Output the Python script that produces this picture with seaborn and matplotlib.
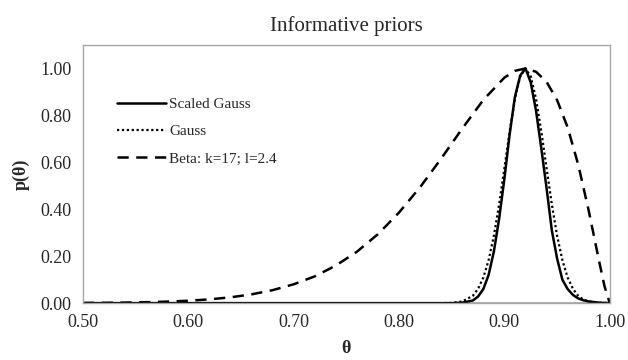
import numpy as np
import pandas as pd
import matplotlib
matplotlib.use("Agg")
import matplotlib.pyplot as plt
import seaborn as sns

# values
theta_g = [0.50, 0.84, 0.85, 0.86, 0.87, 0.875, 0.88, 0.885, 0.89, 0.895, 0.90,
           0.905, 0.91, 0.915, 0.92, 0.925, 0.93, 0.935, 0.94, 0.945, 0.95,
           0.955, 0.96, 0.965, 0.97, 0.975, 0.98, 0.99, 1.00]
scaled_gauss = [0.0, 0.0, 0.0, 0.002, 0.011, 0.028, 0.06, 0.12, 0.22, 0.36, 0.53,
                0.72, 0.88, 0.97, 1.00, 0.94, 0.82, 0.66, 0.49, 0.31, 0.19,
                0.10, 0.06, 0.035, 0.02, 0.012, 0.007, 0.002, 0.0]
gauss = [0.0, 0.0, 0.001, 0.007, 0.031, 0.061, 0.109, 0.183, 0.287, 0.421, 0.575,
         0.732, 0.871, 0.966, 1.00, 0.966, 0.871, 0.732, 0.575, 0.421, 0.287,
         0.183, 0.109, 0.061, 0.031, 0.015, 0.007, 0.001, 0.0]

theta_b = [0.50, 0.52, 0.54, 0.56, 0.58, 0.60, 0.62, 0.64, 0.66, 0.68, 0.70,
           0.72, 0.74, 0.76, 0.78, 0.80, 0.82, 0.84, 0.86, 0.88, 0.90, 0.91,
           0.92, 0.93, 0.94, 0.95, 0.96, 0.97, 0.98, 0.99, 0.995, 1.00]
beta = [0.0008, 0.0013, 0.0023, 0.0039, 0.0064, 0.0102, 0.016, 0.0247, 0.0373,
        0.0552, 0.0803, 0.114, 0.160, 0.219, 0.294, 0.386, 0.494, 0.616, 0.744,
        0.866, 0.961, 0.990, 1.00, 0.986, 0.943, 0.865, 0.749, 0.591, 0.394,
        0.176, 0.072, 0.0]

x_ticks = [0.50, 0.60, 0.70, 0.80, 0.90, 1.00]
y_ticks = [0.00, 0.20, 0.40, 0.60, 0.80, 1.00]

sns.set_style("white")
plt.rcParams['font.family'] = ['Liberation Serif', 'DejaVu Serif']

fig = plt.figure(figsize=(6.28, 3.6), dpi=100)
ax = fig.add_axes([0.132, 0.158, 0.839, 0.717])

# grey baseline like the excel chart
ax.axhline(0, color='#a6a6a6', lw=1.2, zorder=1)

sns.lineplot(x=theta_g, y=scaled_gauss, ax=ax, color='black', lw=1.8,
             label='Scaled Gauss')
sns.lineplot(x=theta_g, y=gauss, ax=ax, color='black', lw=1.6,
             linestyle=(0, (1, 1.2)), label='Gauss')
sns.lineplot(x=theta_b, y=beta, ax=ax, color='black', lw=1.8,
             linestyle=(0, (4.5, 3)), label='Beta: k=17; l=2.4')

ax.set_xlim(0.5, 1.0)
ax.set_ylim(0, 1.1)
ax.set_xticks(x_ticks)
ax.set_xticklabels(['%.2f' % v for v in x_ticks])
ax.set_yticks(y_ticks)
ax.set_yticklabels(['%.2f' % v for v in y_ticks])
ax.tick_params(axis='both', length=0, labelsize=13, pad=8)

for s in ax.spines.values():
    s.set_color('#a6a6a6')
    s.set_linewidth(1.0)

ax.set_title('Informative priors', fontsize=15, pad=10)
ax.set_xlabel('θ', fontsize=13, fontweight='bold', labelpad=6)
ax.set_ylabel('p(θ)', fontsize=13, fontweight='bold', labelpad=8)

ax.legend(loc='upper left', bbox_to_anchor=(0.038, 0.851), frameon=False,
          fontsize=11, handlelength=3.2, handletextpad=0.25, labelspacing=0.9)

fig.savefig('out.png', dpi=100)
